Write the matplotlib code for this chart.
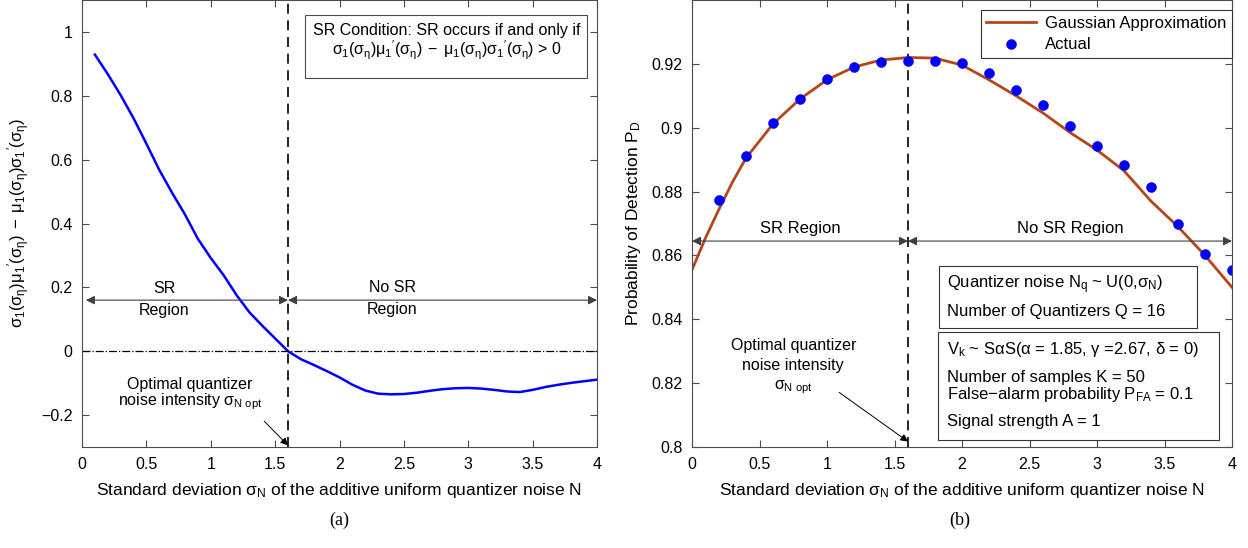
import matplotlib
matplotlib.use("Agg")
import matplotlib.pyplot as plt
from matplotlib.patches import Rectangle

plt.rcParams["font.family"] = ["Liberation Sans", "DejaVu Sans"]
plt.rcParams["mathtext.fontset"] = "custom"
plt.rcParams["mathtext.rm"] = "Liberation Sans"
plt.rcParams["mathtext.it"] = "Liberation Sans"
plt.rcParams["mathtext.bf"] = "Liberation Sans:bold"

# (a) SR condition curve
sigma_a = [0.1, 0.2, 0.3, 0.4, 0.5, 0.6, 0.7, 0.8, 0.9, 1.0,
           1.1, 1.2, 1.3, 1.4, 1.5, 1.6, 1.7, 1.8, 1.9, 2.0,
           2.1, 2.2, 2.3, 2.4, 2.5, 2.6, 2.7, 2.8, 2.9, 3.0,
           3.1, 3.2, 3.3, 3.4, 3.5, 3.6, 3.7, 3.8, 3.9, 4.0]
cond_a = [0.929, 0.868, 0.802, 0.730, 0.650, 0.568, 0.496, 0.428, 0.352, 0.292,
          0.238, 0.176, 0.122, 0.080, 0.040, 0.000, -0.025, -0.043, -0.062, -0.082,
          -0.105, -0.123, -0.133, -0.135, -0.134, -0.130, -0.124, -0.119, -0.116, -0.115,
          -0.117, -0.121, -0.126, -0.128, -0.121, -0.112, -0.105, -0.099, -0.094, -0.089]

# (b) Gaussian approximation
sigma_gauss = [0.0, 0.1, 0.2, 0.3, 0.4, 0.6, 0.8, 1.0, 1.2, 1.4, 1.6, 1.8,
               2.0, 2.2, 2.4, 2.6, 2.8, 3.0, 3.2, 3.4, 3.6, 3.8, 4.0]
pd_gauss = [0.8555, 0.8655, 0.8745, 0.8830, 0.8905, 0.9012, 0.9090, 0.9150,
            0.9190, 0.9212, 0.9220, 0.9218, 0.9196, 0.9150, 0.9100, 0.9046,
            0.8985, 0.8930, 0.8865, 0.8770, 0.8690, 0.8600, 0.8500]

# (b) Actual
sigma_act = [0.2, 0.4, 0.6, 0.8, 1.0, 1.2, 1.4, 1.6, 1.8, 2.0,
             2.2, 2.4, 2.6, 2.8, 3.0, 3.2, 3.4, 3.6, 3.8, 4.0]
pd_act = [0.8775, 0.8910, 0.9015, 0.9090, 0.9154, 0.9190, 0.9206, 0.9208, 0.9208, 0.9202,
          0.9171, 0.9119, 0.9072, 0.9006, 0.8944, 0.8882, 0.8813, 0.8699, 0.8605, 0.8554]

sigma_opt = 1.6

FS_TICK = 11.5
FS_LAB = 12.5
FS_TXT = 11.5
FS_BOX = 12
cond_expr = r"$\sigma_1(\sigma_\eta)\mu_1{}'(\sigma_\eta)\;-\;\mu_1(\sigma_\eta)\sigma_1{}'(\sigma_\eta)$"
xlabel = r"Standard deviation $\sigma_N$ of the additive uniform quantizer noise N"
arrow_kw = dict(arrowstyle="<|-|>", color="0.25", lw=0.8, mutation_scale=13,
                shrinkA=0, shrinkB=0)
small_arrow = dict(arrowstyle="-|>", color="k", lw=0.7, mutation_scale=11,
                   shrinkA=0, shrinkB=0)

fig = plt.figure(figsize=(12.48, 5.48), dpi=100)
ax1 = fig.add_axes([0.0657, 0.1843, 0.4127, 0.8157])
ax2 = fig.add_axes([0.5545, 0.1843, 0.4327, 0.8157])

for ax in (ax1, ax2):
    ax.tick_params(direction="in", top=True, right=True, labelsize=FS_TICK, length=5,
                   color="0.3", pad=7)
    for s in ax.spines.values():
        s.set_color("0.3")
        s.set_linewidth(0.8)
    ax.set_xlim(0, 4)
    ax.set_xticks([0, 0.5, 1, 1.5, 2, 2.5, 3, 3.5, 4])
    ax.set_xticklabels(["0", "0.5", "1", "1.5", "2", "2.5", "3", "3.5", "4"])
    ax.set_xlabel(xlabel, fontsize=FS_LAB, labelpad=7)
    ax.axvline(sigma_opt, color="k", ls=(0, (6, 4)), lw=1.2)

# ---- (a)
ax1.plot(sigma_a, cond_a, color="#0000ff", lw=1.8)
ax1.axhline(0, color="k", ls="-.", lw=0.9)
ax1.set_ylim(-0.3, 1.1)
ax1.set_yticks([-0.2, 0, 0.2, 0.4, 0.6, 0.8, 1])
ax1.set_yticklabels(["\u22120.2", "0", "0.2", "0.4", "0.6", "0.8", "1"])
ax1.set_ylabel(cond_expr, fontsize=12, labelpad=6)

ax1.annotate("", xy=(sigma_opt, 0.16), xytext=(0.03, 0.16), arrowprops=arrow_kw)
ax1.annotate("", xy=(4.0, 0.16), xytext=(sigma_opt, 0.16), arrowprops=arrow_kw)
ax1.text(0.64, 0.195, "SR", ha="center", va="center", fontsize=FS_TXT)
ax1.text(0.64, 0.127, "Region", ha="center", va="center", fontsize=FS_TXT)
ax1.text(2.41, 0.200, "No SR", ha="center", va="center", fontsize=FS_TXT)
ax1.text(2.41, 0.132, "Region", ha="center", va="center", fontsize=FS_TXT)

ax1.text(0.84, -0.104, "Optimal quantizer", ha="center", va="center", fontsize=FS_TXT)
ax1.text(0.84, -0.158, r"noise intensity $\sigma_{N\ opt}$", ha="center", va="center",
         fontsize=FS_TXT)
ax1.annotate("", xy=(sigma_opt, -0.295), xytext=(1.415, -0.219), arrowprops=small_arrow)

# SR condition box
ax1.add_patch(Rectangle((1.73, 0.857), 3.92 - 1.73, 1.054 - 0.857, fc="white",
                        ec="0.3", lw=0.8, zorder=3))
ax1.text(2.83, 1.005, "SR Condition: SR occurs if and only if", ha="center",
         va="center", fontsize=FS_TXT, zorder=4)
ax1.text(2.83, 0.942, cond_expr + " > 0", ha="center", va="center",
         fontsize=FS_TXT, zorder=4)

# ---- (b)
ax2.plot(sigma_gauss, pd_gauss, color="#b4461a", lw=2.0, label="Gaussian Approximation")
ax2.plot(sigma_act, pd_act, ls="none", marker=(8, 2, 0), ms=7, mew=2.6,
         color="#0000ff", label="Actual")
ax2.set_ylim(0.8, 0.94)
ax2.set_yticks([0.8, 0.82, 0.84, 0.86, 0.88, 0.9, 0.92])
ax2.set_yticklabels(["0.8", "0.82", "0.84", "0.86", "0.88", "0.9", "0.92"])
ax2.set_ylabel(r"Probability of Detection $P_D$", fontsize=FS_LAB, labelpad=6)

leg = ax2.legend(loc="upper right", bbox_to_anchor=(1.0, 0.978), fontsize=12,
                 frameon=True, fancybox=False, edgecolor="0.2", framealpha=1,
                 handlelength=3.0, handletextpad=0.5, borderaxespad=0,
                 labelspacing=0.4, borderpad=0.35)
leg.get_frame().set_linewidth(0.8)

ax2.annotate("", xy=(sigma_opt, 0.8645), xytext=(0.0, 0.8645), arrowprops=arrow_kw)
ax2.annotate("", xy=(4.0, 0.8645), xytext=(sigma_opt, 0.8645), arrowprops=arrow_kw)
ax2.text(0.8, 0.8683, "SR Region", ha="center", va="center", fontsize=FS_BOX)
ax2.text(2.8, 0.8683, "No SR Region", ha="center", va="center", fontsize=FS_BOX)

ax2.text(0.75, 0.8319, "Optimal quantizer", ha="center", va="center", fontsize=FS_TXT)
ax2.text(0.75, 0.8256, "noise intensity", ha="center", va="center", fontsize=FS_TXT)
ax2.text(0.75, 0.8188, r"$\sigma_{N\ opt}$", ha="center", va="center", fontsize=FS_TXT)
ax2.annotate("", xy=(sigma_opt, 0.8017), xytext=(1.09, 0.8171), arrowprops=small_arrow)

# parameter boxes
ax2.add_patch(Rectangle((1.826, 0.8372), 3.74 - 1.826, 0.8566 - 0.8372, fc="white",
                        ec="0.2", lw=0.8, zorder=3))
ax2.text(1.89, 0.8509, "Quantizer noise $N_q$ ~ U(0,$\\sigma_N$)", ha="left",
         va="center", fontsize=FS_BOX, zorder=4)
ax2.text(1.89, 0.8423, "Number of Quantizers Q = 16", ha="left", va="center",
         fontsize=FS_BOX, zorder=4)

ax2.add_patch(Rectangle((1.82, 0.8022), 3.90 - 1.82, 0.836 - 0.8022, fc="white",
                        ec="0.2", lw=0.8, zorder=3))
ax2.text(1.89, 0.8306, "$V_k$ ~ S\u03b1S(\u03b1 = 1.85, \u03b3 =2.67, \u03b4 = 0)",
         ha="left", va="center", fontsize=FS_BOX, zorder=4)
ax2.text(1.89, 0.8218, "Number of samples K = 50", ha="left", va="center",
         fontsize=FS_BOX, zorder=4)
ax2.text(1.89, 0.8166, "False\u2212alarm probability $P_{FA}$ = 0.1", ha="left",
         va="center", fontsize=FS_BOX, zorder=4)
ax2.text(1.89, 0.8079, "Signal strength A = 1", ha="left", va="center",
         fontsize=FS_BOX, zorder=4)

# captions
fig.text(0.272, 0.05, "(a)", ha="center", va="center", fontsize=13,
         family="Liberation Serif")
fig.text(0.769, 0.05, "(b)", ha="center", va="center", fontsize=13,
         family="Liberation Serif")

plt.savefig("out.png", dpi=100)
